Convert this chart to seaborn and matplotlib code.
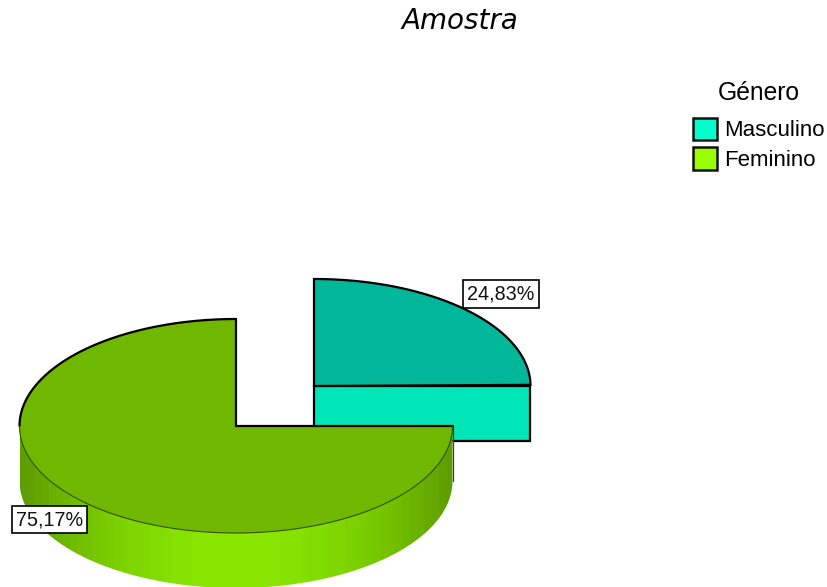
"""
Amostra por genero - exploded 3D style pie, drawn in pixel coordinates
"""

import numpy as np
import matplotlib.pyplot as plt
import matplotlib.patches as mpatches
from matplotlib.colors import ListedColormap
import seaborn as sns

# data
categories = ["Masculino", "Feminino"]
shares = [24.83, 75.17]
chart_title = "Amostra"
legend_title = "Género"

# colours
TOP = ["#00B899", "#70B800"]
FACE = "#00E6B8"
LEGEND = ["#00FFCC", "#99FF00"]
SIDE_DARK = "#5F9E00"
SIDE_LIGHT = "#88E600"

# geometry, in pixels
W, H = 827, 587
RX, RY, DEPTH = 216.5, 107, 55
CENTERS = [(314, 386), (236, 426)]
LABEL_POS = [(501, 294), (49.5, 519.5)]
HEAVY = 1.6

sns.set_theme(style="white")
plt.rcParams["font.family"] = ["Liberation Sans", "DejaVu Sans"]
plt.rcParams["text.color"] = "black"


def arc(cx, cy, start, end, n=200):
    t = np.radians(np.linspace(start, end, n))
    return cx + RX * np.cos(t), cy - RY * np.sin(t)


def draw_masculino(ax, cut):
    cx, cy = CENTERS[0]
    x, y = arc(cx, cy, cut, 90)
    # flat cut face under the slice
    ax.fill([cx, x[0], x[0], cx], [cy, cy, cy + DEPTH, cy + DEPTH],
            facecolor=FACE, edgecolor="black", linewidth=HEAVY, zorder=2, joinstyle="miter")
    ax.fill(np.r_[cx, x], np.r_[cy, y], facecolor=TOP[0], edgecolor="black",
            linewidth=HEAVY, zorder=3, joinstyle="miter")


def draw_feminino(ax, cut):
    cx, cy = CENTERS[1]
    # side wall with vertical colour bands, clipped to the lower rim
    top_x, top_y = arc(cx, cy, 180, 360)
    wall = np.c_[np.r_[top_x, top_x[::-1]], np.r_[top_y, top_y[::-1] + DEPTH]]
    u = np.linspace(-1, 1, 60)
    band = 1 - u ** 2
    cmap = ListedColormap(sns.blend_palette([SIDE_DARK, SIDE_LIGHT], 24))
    img = ax.imshow(band[None, :], extent=(cx - RX, cx + RX, H, 0), cmap=cmap,
                    aspect="auto", zorder=4, vmin=0, vmax=1, interpolation="nearest")
    patch = mpatches.Polygon(wall, closed=True, transform=ax.transData, facecolor="none",
                             edgecolor="none")
    ax.add_patch(patch)
    img.set_clip_path(patch)
    ax.plot([cx + RX, cx + RX], [cy, cy + DEPTH], color="#2f4f00", linewidth=0.9, zorder=5)

    # top of the slice
    x, y = arc(cx, cy, 90, 360 + cut)
    ax.fill(np.r_[cx, x], np.r_[cy, y], facecolor=TOP[1], edgecolor="none", zorder=5)
    # heavy outline on the back, hairline along the front rim
    bx, by = arc(cx, cy, 90, 180)
    ax.plot(bx, by, color="black", linewidth=HEAVY, zorder=6)
    ax.plot([bx[0], cx, cx + RX], [by[0], cy, cy], color="black", linewidth=HEAVY, zorder=6,
            solid_joinstyle="miter")
    fx, fy = arc(cx, cy, 180, 360)
    ax.plot(fx, fy, color="#2f4f00", linewidth=0.8, zorder=6)


fig = plt.figure(figsize=(W / 100, H / 100), dpi=100)
ax = fig.add_axes([0, 0, 1, 1])

# sweep starts at twelve o'clock and runs clockwise
cut = 90 - 360 * shares[0] / sum(shares)
draw_masculino(ax, cut)
draw_feminino(ax, cut)
ax.set_xlim(0, W)
ax.set_ylim(H, 0)
ax.axis("off")

for share, (lx, ly) in zip(shares, LABEL_POS):
    ax.text(lx, ly, f"{share:.2f}%".replace(".", ","), ha="center", va="center",
            fontsize=14.2, color="#111111", zorder=8,
            bbox=dict(boxstyle="square,pad=0.22", facecolor="white", edgecolor="black",
                      linewidth=1.2))

ax.text(460, 21, chart_title, ha="center", va="center", fontsize=20, style="italic",
        family="DejaVu Sans", color="black")

handles = [mpatches.Patch(facecolor=c, edgecolor="#111111", linewidth=1.8) for c in LEGEND]
leg = ax.legend(handles, categories, title=legend_title, frameon=False, fontsize=16,
                title_fontsize=17.7, loc="upper left", bbox_to_anchor=(693 / W, 1 - 81 / H),
                bbox_transform=fig.transFigure, borderaxespad=0, borderpad=0,
                handlelength=1.08, handleheight=1.2, handletextpad=0.3, labelspacing=0.27)
leg._legend_box.sep = 9
leg.set_zorder(9)

plt.savefig("out.png", dpi=100)
plt.close()
